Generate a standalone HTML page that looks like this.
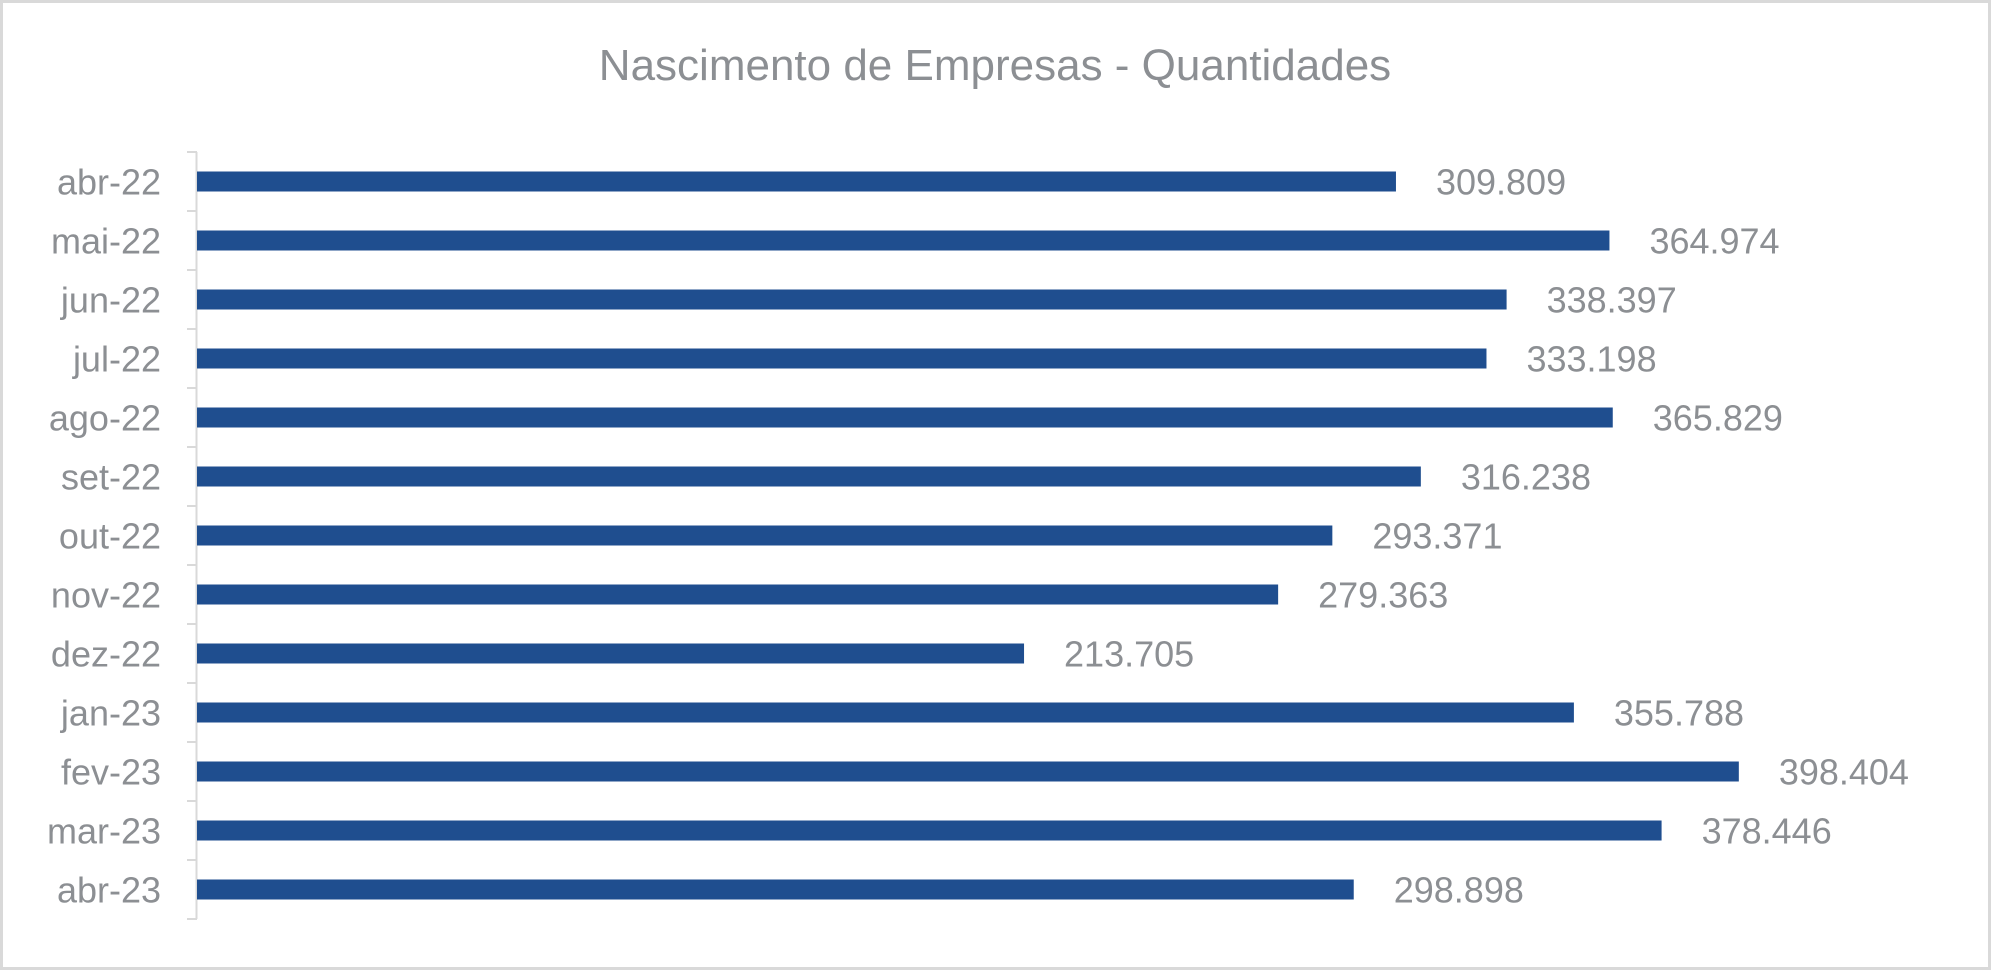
<!DOCTYPE html>
<html><head><meta charset="utf-8"><style>
html,body{margin:0;padding:0;background:#fff;}
svg text{font-family:"Liberation Sans",Arial,sans-serif;fill:#8c8f93;}
</style></head><body>
<svg width="1991" height="970" viewBox="0 0 1991 970" xmlns="http://www.w3.org/2000/svg">
<rect x="1.5" y="1.5" width="1988" height="967" fill="#fff" stroke="#d9d9d9" stroke-width="3"/>
<text x="995" y="80" font-size="44" text-anchor="middle">Nascimento de Empresas - Quantidades</text>
<g id="plot"></g>
</svg>
<script>
const categories=["abr-22","mai-22","jun-22","jul-22","ago-22","set-22","out-22","nov-22","dez-22","jan-23","fev-23","mar-23","abr-23"];
const values=[309809,364974,338397,333198,365829,316238,293371,279363,213705,355788,398404,378446,298898];
const valueLabels=["309.809","364.974","338.397","333.198","365.829","316.238","293.371","279.363","213.705","355.788","398.404","378.446","298.898"];
const NS="http://www.w3.org/2000/svg";
const g=document.getElementById('plot');
const x0=197,scale=0.00387,yTop=152,band=59,barH=20;
const xs=v=>x0+v*scale;
const yc=i=>yTop+band*(i+0.5);
function mk(t,a){const e=document.createElementNS(NS,t);for(const k in a)e.setAttribute(k,a[k]);g.appendChild(e);return e;}
const ax=mk('line',{x1:x0-0.5,x2:x0-0.5,y1:yTop,y2:yTop+band*categories.length,stroke:'#d9d9d9','stroke-width':2});


for(let i=0;i<=categories.length;i++){
 const t=mk('line',{x1:x0-10,x2:x0,y1:yTop+band*i,y2:yTop+band*i,stroke:'#d9d9d9','stroke-width':2});
 
 
}
categories.forEach((c,i)=>{
 const l=mk('text',{x:161,y:yc(i)+13,'font-size':36,'text-anchor':'end'});l.textContent=c;
 
 
 const b=mk('rect',{x:x0,y:yc(i)-barH/2,width:xs(values[i])-x0,height:barH,fill:'#1f4e8f'});
 
 
 const v=mk('text',{x:xs(values[i])+40,y:yc(i)+13,'font-size':36});v.textContent=valueLabels[i];
 
 
});
</script>
</body></html>
